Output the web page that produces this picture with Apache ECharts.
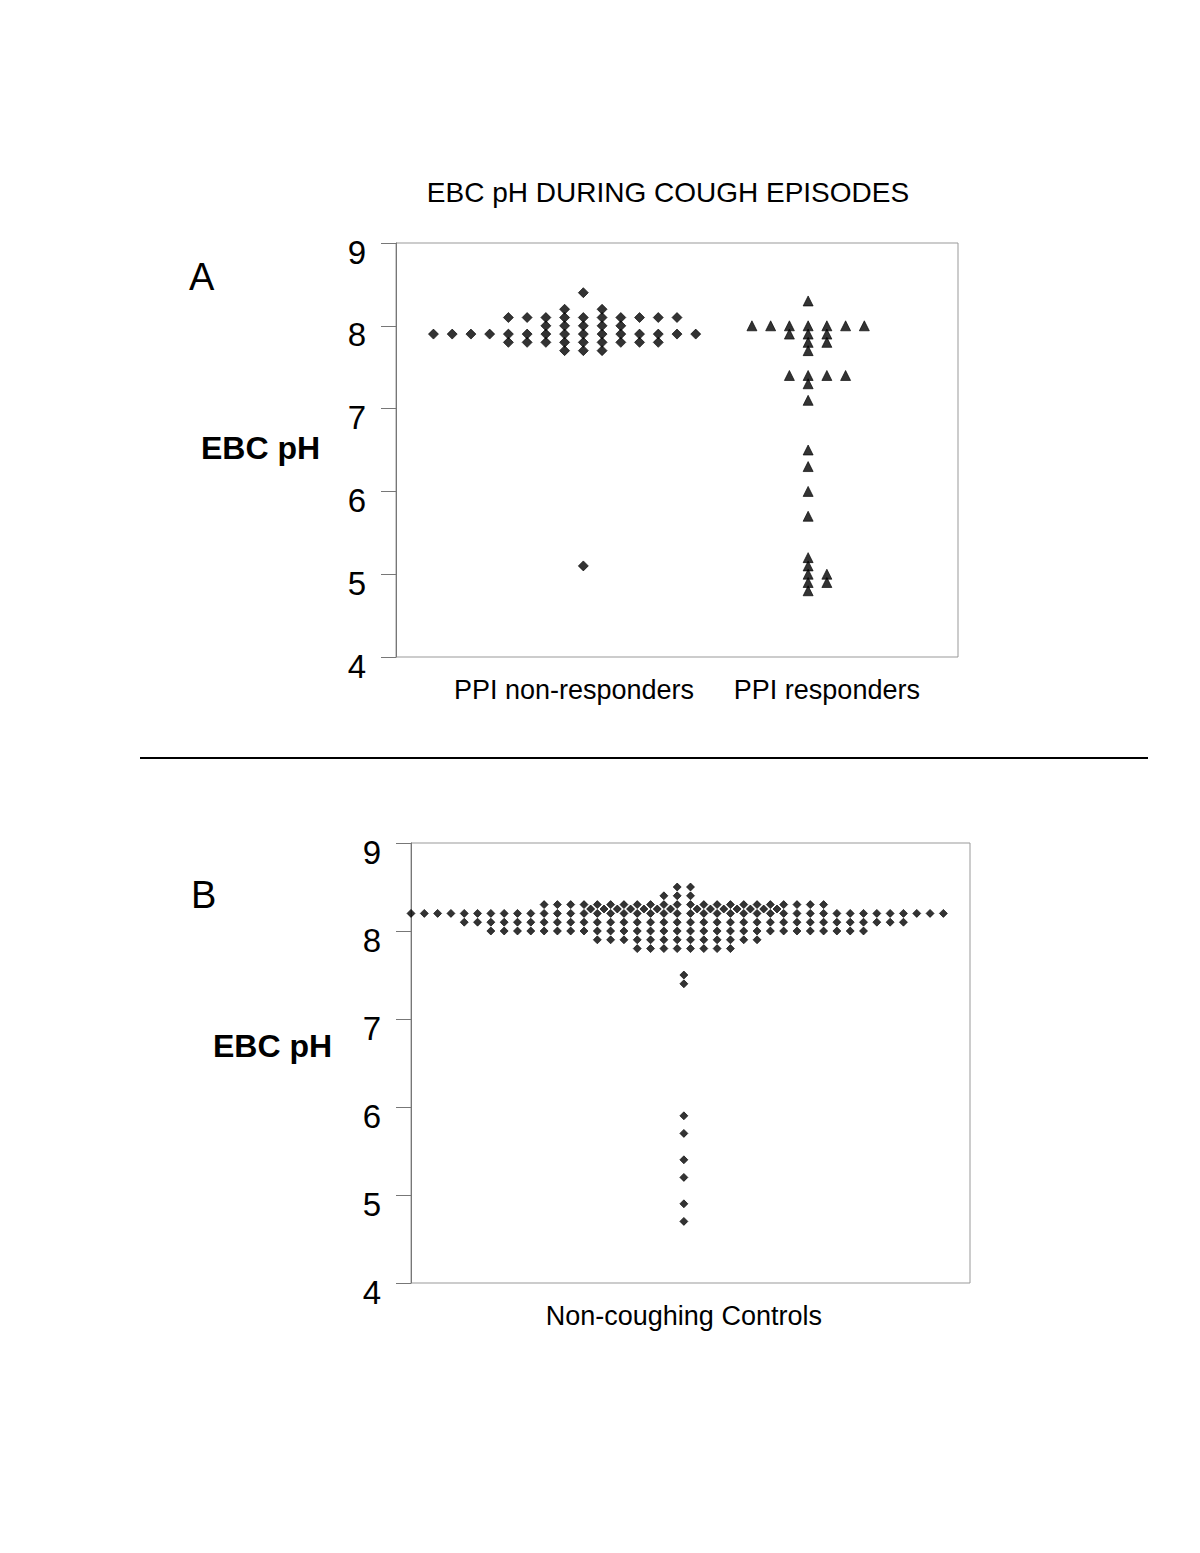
<!DOCTYPE html>
<html>
<head>
<meta charset="utf-8">
<script src="https://cdn.jsdelivr.net/npm/echarts@6/dist/echarts.min.js"></script>
<style>
  html, body { margin: 0; padding: 0; background: #fff; }
  #main { width: 1200px; height: 1553px; }
</style>
</head>
<body>
<div id="main"></div>
<script>
// panel A: columns of the dot plot, left to right (offset from group centre)
const nonRespCenter = 10
const nonRespFirstOffset = -8
const nonRespColumns = [
  [7.9], [7.9], [7.9], [7.9],
  [8.1, 7.9, 7.8],
  [8.1, 7.9, 7.8],
  [8.1, 8.0, 7.9, 7.8],
  [8.2, 8.1, 8.0, 7.9, 7.8, 7.7],
  [8.4, 8.1, 8.0, 7.9, 7.8, 7.7, 5.1],
  [8.2, 8.1, 8.0, 7.9, 7.8, 7.7],
  [8.1, 8.0, 7.9, 7.8],
  [8.1, 7.9, 7.8],
  [8.1, 7.9, 7.8],
  [8.1, 7.9],
  [7.9]
]

const respCenter = 22
const respFirstOffset = -3
const respColumns = [
  [8.0],
  [8.0],
  [8.0, 7.9, 7.4],
  [8.3, 8.0, 7.9, 7.8, 7.7, 7.4, 7.3, 7.1, 6.5, 6.3, 6.0, 5.7, 5.2, 5.1, 5.0, 4.9, 4.8],
  [8.0, 7.9, 7.8, 7.4, 5.0, 4.9],
  [8.0, 7.4],
  [8.0]
]

const groupLabels = ['PPI non-responders', 'PPI responders']
const groupLabelPos = [9.5, 23]

// panel B: rows of dots [pH, first column, last column]
const controlRows = [
  [8.5, 20, 21],
  [8.4, 19, 21],
  [8.3, 10, 31],
  [8.25, 13.5, 19.5],
  [8.25, 21.5, 27.5],
  [8.2, 0, 40],
  [8.1, 4, 37],
  [8.0, 6, 34],
  [7.9, 14, 26],
  [7.8, 17, 24]
]
const controlOutlierCol = 20.5
const controlOutliers = [7.5, 7.4, 5.9, 5.7, 5.4, 5.2, 4.9, 4.7]
const controlLabel = 'Non-coughing Controls'

const yTicks = [4, 5, 6, 7, 8, 9]

const columnsToPoints = (center, first, cols) => {
  const pts = []
  cols.forEach((col, i) => col.forEach(v => pts.push([center + first + i, v])))
  return pts
}

const rowsToPoints = (rows) => {
  const pts = []
  rows.forEach(([ph, a, b]) => {
    for (let x = a; x <= b; x++) pts.push([x, ph])
  })
  return pts
}

const FONT = '"Liberation Sans", Arial, sans-serif'

const yAxisCommon = (gi) => ({
  gridIndex: gi,
  type: 'value',
  min: yTicks[0],
  max: yTicks[yTicks.length - 1],
  interval: 1,
  axisLine: { show: true, lineStyle: { color: '#777', width: 1 } },
  axisTick: { show: true, length: 15, lineStyle: { color: '#777' } },
  splitLine: { show: false },
  axisLabel: {
    color: '#000', fontSize: 33, fontFamily: FONT,
    margin: 30, verticalAlign: 'top', lineHeight: 18
  }
})

const labelText = (x, y, text, size, weight) => ({
  type: 'text',
  style: {
    x: x, y: y, text: text,
    font: (weight || 'normal') + ' ' + size + 'px ' + FONT,
    fill: '#000', textAlign: 'left', textVerticalAlign: 'middle'
  }
})

const markStyle = { color: '#000', borderColor: '#000', borderWidth: 0.8 }

let myChart = echarts.init(document.getElementById('main'), null, { renderer: 'svg' })

let option = {
  animation: false,
  backgroundColor: '#fff',
  graphic: [
    {
      type: 'text',
      style: {
        x: 668, y: 192, text: 'EBC pH DURING COUGH EPISODES',
        font: '28px ' + FONT, fill: '#000',
        textAlign: 'center', textVerticalAlign: 'middle'
      }
    },
    labelText(189, 277, 'A', 38),
    labelText(191, 895, 'B', 38),
    labelText(201, 448, 'EBC pH', 32, 'bold'),
    labelText(213, 1046, 'EBC pH', 32, 'bold'),
    {
      type: 'line',
      shape: { x1: 140, y1: 758, x2: 1148, y2: 758 },
      style: { stroke: '#000', lineWidth: 2 }
    }
  ],
  grid: [
    { left: 396, top: 243, width: 562, height: 414, show: true, borderColor: '#999', borderWidth: 1 },
    { left: 411, top: 843, width: 559, height: 440, show: true, borderColor: '#999', borderWidth: 1 }
  ],
  xAxis: [
    {
      gridIndex: 0, type: 'value', min: 0, max: 30,
      axisLine: { show: false }, axisTick: { show: false }, splitLine: { show: false },
      axisLabel: {
        customValues: groupLabelPos,
        formatter: (v) => groupLabels[groupLabelPos.indexOf(v)] || '',
        color: '#000', fontSize: 27, fontFamily: FONT, margin: 19
      }
    },
    {
      gridIndex: 1, type: 'value', min: 0, max: 42,
      axisLine: { show: false }, axisTick: { show: false }, splitLine: { show: false },
      axisLabel: {
        customValues: [controlOutlierCol],
        formatter: () => controlLabel,
        color: '#000', fontSize: 27, fontFamily: FONT, margin: 19
      }
    }
  ],
  yAxis: [yAxisCommon(0), yAxisCommon(1)],
  series: [
    {
      name: 'PPI non-responders', type: 'scatter', xAxisIndex: 0, yAxisIndex: 0,
      symbol: 'diamond', symbolSize: 10, clip: false,
      itemStyle: markStyle,
      data: columnsToPoints(nonRespCenter, nonRespFirstOffset, nonRespColumns)
    },
    {
      name: 'PPI responders', type: 'scatter', xAxisIndex: 0, yAxisIndex: 0,
      symbol: 'triangle', symbolSize: 10, clip: false,
      itemStyle: markStyle,
      data: columnsToPoints(respCenter, respFirstOffset, respColumns)
    },
    {
      name: 'Non-coughing Controls', type: 'scatter', xAxisIndex: 1, yAxisIndex: 1,
      symbol: 'diamond', symbolSize: 8, clip: false,
      itemStyle: markStyle,
      data: rowsToPoints(controlRows).concat(controlOutliers.map(v => [controlOutlierCol, v]))
    }
  ]
}

myChart.setOption(option)
</script>
</body>
</html>
